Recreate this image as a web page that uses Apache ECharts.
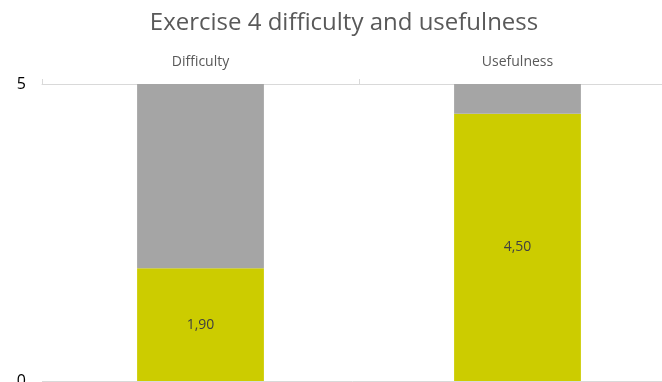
<!DOCTYPE html>
<html>
<head>
<meta charset="utf-8">
<script src="https://cdn.jsdelivr.net/npm/echarts@6/dist/echarts.min.js"></script>
<style>
  html, body { margin: 0; padding: 0; background: #ffffff; }
  #chart { width: 662px; height: 382px; }
</style>
</head>
<body>
<div id="chart"></div>
<script>
// Survey results for exercise 4 (scale 0–5)
const categories = ['Difficulty', 'Usefulness'];
const meanScores = [1.90, 4.50];
const remainder = [3.10, 0.50];
const yTicks = [0, 5];

const fontFamily = '"Open Sans", "Liberation Sans", sans-serif';
const commaDecimal = v => v.toFixed(2).replace('.', ',');

const chart = echarts.init(document.getElementById('chart'));
chart.setOption({
  animation: false,
  backgroundColor: '#ffffff',
  title: {
    text: 'Exercise 4 difficulty and usefulness',
    left: 339,
    textAlign: 'center',
    top: 6,
    textStyle: { fontFamily, fontSize: 24, fontWeight: 'normal', color: '#595959' }
  },
  grid: { left: 42, top: 84, width: 634, height: 297, outerBoundsMode: 'none', containLabel: false },
  xAxis: {
    type: 'category',
    position: 'top',
    data: categories,
    axisLine: { onZero: false, lineStyle: { color: '#d9d9d9', width: 1 } },
    axisTick: { show: true, length: 5, lineStyle: { color: '#d9d9d9' } },
    axisLabel: { fontFamily, fontSize: 14, color: '#595959', margin: 15 }
  },
  yAxis: {
    type: 'value',
    min: yTicks[0],
    max: yTicks[yTicks.length - 1],
    interval: 5,
    axisLine: { show: false },
    axisTick: { show: false },
    splitLine: { lineStyle: { color: '#d9d9d9', width: 1 } },
    axisLabel: { fontFamily, fontSize: 16, color: '#000000', margin: 16 }
  },
  series: [
    {
      name: 'Mean score',
      type: 'bar',
      stack: 'total',
      barWidth: '40%',
      data: meanScores,
      itemStyle: { color: '#cccc00' },
      label: {
        show: true,
        position: 'inside',
        fontFamily,
        fontSize: 14,
        color: '#404040',
        formatter: p => commaDecimal(p.value)
      }
    },
    {
      name: 'Remainder',
      type: 'bar',
      stack: 'total',
      barWidth: '40%',
      data: remainder,
      itemStyle: { color: '#a5a5a5' }
    }
  ]
});
</script>
</body>
</html>
